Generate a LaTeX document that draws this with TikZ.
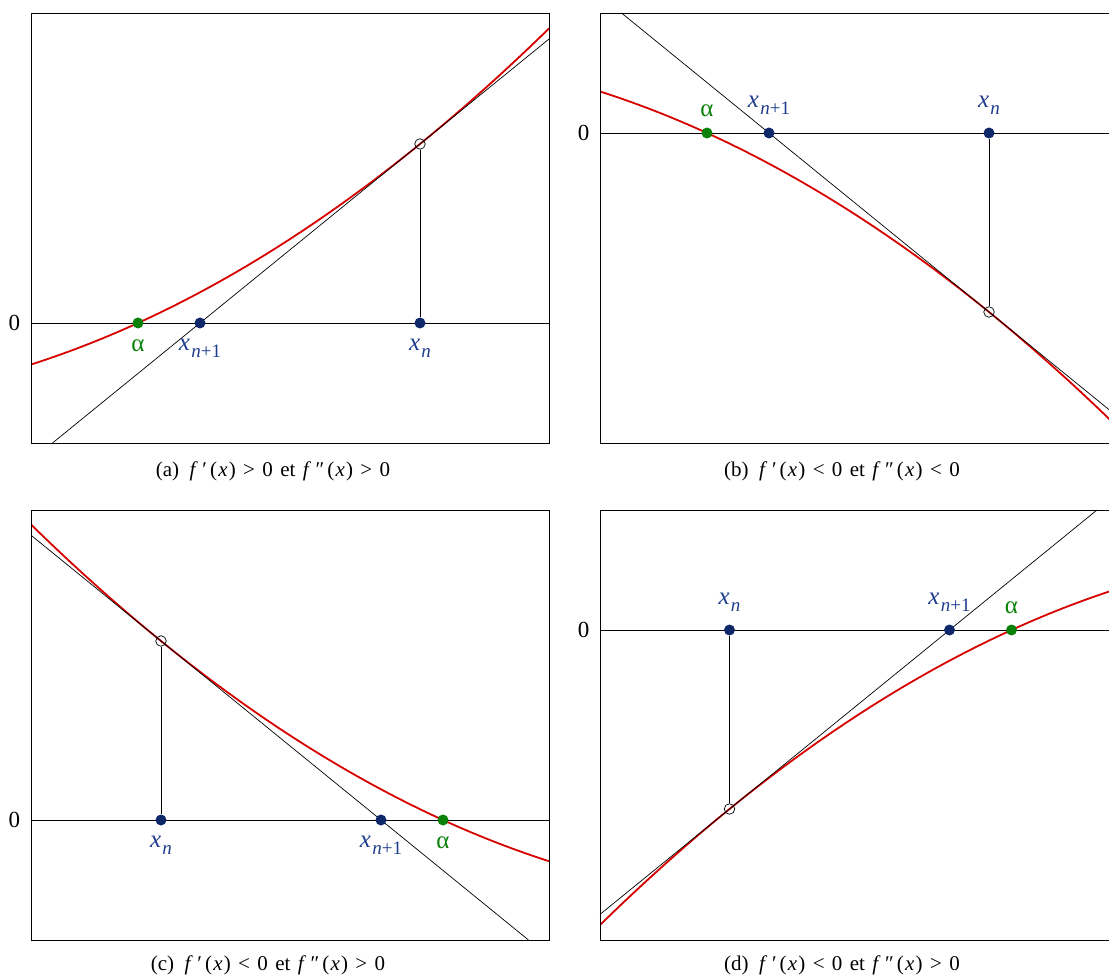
\documentclass[tikz,border=0pt]{standalone}
\usepackage{fontspec}
\setmainfont{Liberation Serif}
\usetikzlibrary{backgrounds}
\definecolor{cred}{RGB}{215,0,0}
\definecolor{cgreen}{RGB}{10,130,10}
\definecolor{cnavy}{RGB}{15,40,105}
\definecolor{clabel}{RGB}{30,60,140}
\newcommand{\xsub}[1]{\textit{x}\kern0.05em\raisebox{-0.28em}{\fontsize{19}{19}\selectfont #1}}
\newcommand{\fpar}[1]{\textit{f}\kern0.22em#1\kern0.14em(\kern0.06em\textit{x}\kern0.06em)}
\newcommand{\capt}[3]{(#1)\hspace{0.5em}\fpar{′}\hspace{0.35em}#2\hspace{0.35em}0\hspace{0.35em}et\hspace{0.35em}\fpar{″}\hspace{0.35em}#3\hspace{0.35em}0}
\tikzset{
  frame/.style={draw=black, line width=0.9pt},
  axisline/.style={line width=0.9pt},
  fcurve/.style={cred, line width=1.8pt},
  tangent/.style={line width=0.7pt},
  vline/.style={line width=0.7pt},
  rootdot/.style={circle, fill=cgreen, inner sep=0, minimum size=11pt},
  iterdot/.style={circle, fill=cnavy, inner sep=0, minimum size=11pt},
  opendot/.style={circle, draw=black, line width=0.7pt, inner sep=0, minimum size=10.5pt},
  lab/.style={inner sep=0, font=\fontsize{25}{27}\selectfont},
  rootlab/.style={lab, text=cgreen},
  iterlab/.style={lab, text=clabel},
  zerolab/.style={inner sep=0, font=\fontsize{23}{25}\selectfont},
  captionlab/.style={inner sep=0, anchor=base, font=\fontsize{21}{24}\selectfont},
}
\begin{document}
\begin{tikzpicture}[x=1pt, y=-1pt]
\useasboundingbox (0,0) rectangle (1109,976);

% ---------------- Panel (a) ----------------
\node[rootdot] (a-al) at (138,323) {};
\node[iterdot] (a-x1) at (200,323) {};
\node[iterdot] (a-x0) at (420,323) {};
\node[opendot] (a-P) at (420,144) {};
\coordinate (a-f0) at (31,13);
\coordinate (a-f1) at (549,443);
\coordinate (a-o0) at (31,323);
\coordinate (a-o1) at (549,323);
\coordinate (a-t0) at (52.51,443);
\coordinate (a-t1) at (549,39.04);
\begin{pgfonlayer}{background}
  \begin{scope}
    \clip (a-f0) rectangle (a-f1);
    \draw[fcurve] plot[domain=31:549, samples=90, smooth] (\x, {323-(6.3435*((\x-138)/100)^2+0.45587*(\x-138))});
  \end{scope}
  \draw[tangent] (a-t0) -- (a-t1);
  \draw[axisline] (a-o0) -- (a-o1);
  \draw[vline] (a-P) -- (a-x0);
  \draw[frame] (a-f0) rectangle (a-f1);
\end{pgfonlayer}
\node[zerolab] (a-zero) at (14.5,323) {0};
\node[rootlab, anchor=north] (a-lal) at (138,340) {α};
\node[iterlab, anchor=north] (a-lx1) at (200,339) {\xsub{\textit{n}+1}};
\node[iterlab, anchor=north] (a-lx0) at (420,339) {\xsub{\textit{n}}};
\node[captionlab] (a-cap) at (273,476) {\capt{a}{>}{>}};

% ---------------- Panel (b) ----------------
\node[rootdot] (b-al) at (707,133) {};
\node[iterdot] (b-x1) at (769,133) {};
\node[iterdot] (b-x0) at (989,133) {};
\node[opendot] (b-P) at (989,312) {};
\coordinate (b-f0) at (600,13);
\coordinate (b-f1) at (1118,443);
\coordinate (b-o0) at (600,133);
\coordinate (b-o1) at (1118,133);
\coordinate (b-t0) at (621.5,13);
\coordinate (b-t1) at (1118,416.96);
\begin{pgfonlayer}{background}
  \begin{scope}
    \clip (b-f0) rectangle (b-f1);
    \draw[fcurve] plot[domain=600:1118, samples=90, smooth] (\x, {133+(6.3435*((\x-707)/100)^2+0.45587*(\x-707))});
  \end{scope}
  \draw[tangent] (b-t0) -- (b-t1);
  \draw[axisline] (b-o0) -- (b-o1);
  \draw[vline] (b-P) -- (b-x0);
  \draw[frame] (b-f0) rectangle (b-f1);
\end{pgfonlayer}
\node[zerolab] (b-zero) at (583.5,133) {0};
\node[rootlab, anchor=south] (b-lal) at (707,117) {α};
\node[iterlab, anchor=south] (b-lx1) at (769,115) {\xsub{\textit{n}+1}};
\node[iterlab, anchor=south] (b-lx0) at (989,115) {\xsub{\textit{n}}};
\node[captionlab] (b-cap) at (842,476) {\capt{b}{<}{<}};

% ---------------- Panel (c) ----------------
\node[rootdot] (c-al) at (443,820) {};
\node[iterdot] (c-x1) at (381,820) {};
\node[iterdot] (c-x0) at (161,820) {};
\node[opendot] (c-P) at (161,641) {};
\coordinate (c-f0) at (31,510);
\coordinate (c-f1) at (549,940);
\coordinate (c-o0) at (31,820);
\coordinate (c-o1) at (549,820);
\coordinate (c-t0) at (528.5,940);
\coordinate (c-t1) at (31,535.2);
\begin{pgfonlayer}{background}
  \begin{scope}
    \clip (c-f0) rectangle (c-f1);
    \draw[fcurve] plot[domain=31:549, samples=90, smooth] (\x, {820-(6.3435*((443-\x)/100)^2+0.45587*(443-\x))});
  \end{scope}
  \draw[tangent] (c-t0) -- (c-t1);
  \draw[axisline] (c-o0) -- (c-o1);
  \draw[vline] (c-P) -- (c-x0);
  \draw[frame] (c-f0) rectangle (c-f1);
\end{pgfonlayer}
\node[zerolab] (c-zero) at (14.5,820) {0};
\node[rootlab, anchor=north] (c-lal) at (443,837) {α};
\node[iterlab, anchor=north] (c-lx1) at (381,836) {\xsub{\textit{n}+1}};
\node[iterlab, anchor=north] (c-lx0) at (161,836) {\xsub{\textit{n}}};
\node[captionlab] (c-cap) at (268,970) {\capt{c}{<}{>}};

% ---------------- Panel (d) ----------------
\node[rootdot] (d-al) at (1011.5,630) {};
\node[iterdot] (d-x1) at (949.5,630) {};
\node[iterdot] (d-x0) at (729.5,630) {};
\node[opendot] (d-P) at (729.5,809) {};
\coordinate (d-f0) at (600,510);
\coordinate (d-f1) at (1118,940);
\coordinate (d-o0) at (600,630);
\coordinate (d-o1) at (1118,630);
\coordinate (d-t0) at (1097,510);
\coordinate (d-t1) at (600,914.4);
\begin{pgfonlayer}{background}
  \begin{scope}
    \clip (d-f0) rectangle (d-f1);
    \draw[fcurve] plot[domain=600:1118, samples=90, smooth] (\x, {630+(6.3435*((1011.5-\x)/100)^2+0.45587*(1011.5-\x))});
  \end{scope}
  \draw[tangent] (d-t0) -- (d-t1);
  \draw[axisline] (d-o0) -- (d-o1);
  \draw[vline] (d-P) -- (d-x0);
  \draw[frame] (d-f0) rectangle (d-f1);
\end{pgfonlayer}
\node[zerolab] (d-zero) at (583.5,630) {0};
\node[rootlab, anchor=south] (d-lal) at (1011.5,614) {α};
\node[iterlab, anchor=south] (d-lx1) at (949.5,612) {\xsub{\textit{n}+1}};
\node[iterlab, anchor=south] (d-lx0) at (729.5,612) {\xsub{\textit{n}}};
\node[captionlab] (d-cap) at (842,970) {\capt{d}{<}{>}};
\end{tikzpicture}
\end{document}
